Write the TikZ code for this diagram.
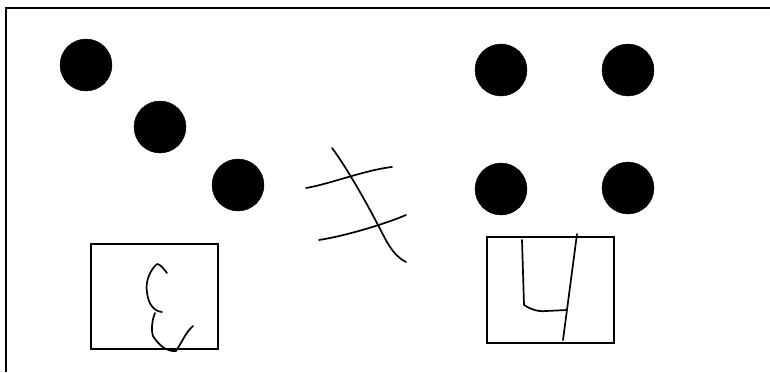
\documentclass[tikz,border=0pt]{standalone}
\begin{document}
\begin{tikzpicture}[x=1pt,y=-1pt,
  dot/.style={circle,fill=black,draw=black,minimum size=52pt,inner sep=0pt},
  frame/.style={draw=black,line width=1.3pt},
  stroke/.style={draw=black,line width=1.7pt,line cap=round,line join=round}]
\useasboundingbox (0,0) rectangle (770,372);
% outer frame (top and left edges)
\draw[frame] (6,372) -- (6,8) -- (770,8);
% dots
\node[dot] (d1) at (86,65) {};
\node[dot] (d2) at (160,127) {};
\node[dot] (d3) at (238,185) {};
\node[dot] (d4) at (501,70) {};
\node[dot] (d5) at (628,70) {};
\node[dot] (d6) at (501,189) {};
\node[dot] (d7) at (628,188) {};
% boxes
\draw[frame] (91,244) rectangle (218,349);
\draw[frame] (487,237) rectangle (614,343);
% left box strokes
\draw[stroke] (167,273) .. controls (163,268) and (160,264) .. (157,264)
  .. controls (150,270) and (145,282) .. (147,292)
  .. controls (148,303) and (153,311) .. (162,312);
\draw[stroke] (155,313) .. controls (152,320) and (151,330) .. (153,336)
  .. controls (158,344) and (166,352) .. (176,351)
  .. controls (182,342) and (186,332) .. (193,326);
% right box strokes
\draw[stroke] (522,240) -- (524,305)
  .. controls (530,309) and (538,312) .. (546,311) -- (567,310);
\draw[stroke] (577,234) -- (563,340);
% crossing symbol
\draw[stroke] (332,148) .. controls (345,165) and (365,200) .. (378,225)
  .. controls (386,240) and (392,255) .. (406,262);
\draw[stroke] (306,188) .. controls (330,184) and (365,170) .. (392,167);
\draw[stroke] (319,240) .. controls (345,236) and (385,224) .. (406,215);
\end{tikzpicture}
\end{document}
